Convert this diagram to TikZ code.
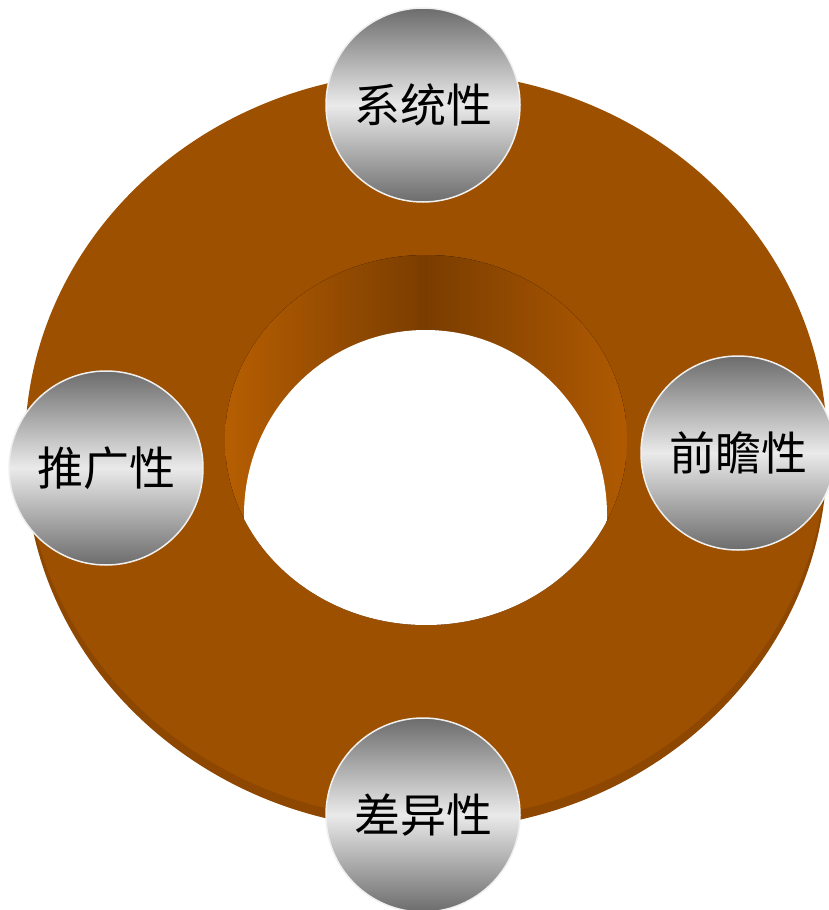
\documentclass[tikz,border=0pt]{standalone}
\usepackage{fontspec}
\newfontfamily\cjk{Noto Sans CJK SC}
\definecolor{ringtop}{RGB}{157,80,0}
\definecolor{ringside}{RGB}{142,71,0}
\definecolor{wallL}{RGB}{182,94,2}
\definecolor{wallM}{RGB}{122,61,0}
\definecolor{wallR}{RGB}{176,90,2}
\definecolor{balldark}{RGB}{108,108,108}
\definecolor{balllight}{RGB}{234,234,234}
\begin{document}
\begin{tikzpicture}[x=1pt,y=-1pt,
  ball/.style={circle, minimum size=194pt, inner sep=0pt,
    draw=white!88!gray, line width=1.5pt,
    top color=balldark, bottom color=balldark, middle color=balllight,
    font=\cjk\fontsize{46}{46}\selectfont, text=black}]
\useasboundingbox (0,0) rectangle (829,910);
% ring thickness (side)
\fill[ringside] (426,456) ellipse [x radius=401pt, y radius=374pt];
% ring top face
\fill[ringtop] (426,446) ellipse [x radius=401pt, y radius=374pt];
% inner wall and hole
\begin{scope}
  \clip (426,440) ellipse [x radius=201pt, y radius=185pt];
  \fill[left color=wallL, right color=wallR, middle color=wallM] (225,250) rectangle (627,630);
  \fill[white] (425.5,515) ellipse [x radius=181.5pt, y radius=185pt];
\end{scope}
% balls
\node[ball] (sys) at (423,105) {系统性};
\node[ball] (qian) at (738,453) {前瞻性};
\node[ball] (cha) at (423,815) {差异性};
\node[ball] (tui) at (106,468) {推广性};
\end{tikzpicture}
\end{document}
